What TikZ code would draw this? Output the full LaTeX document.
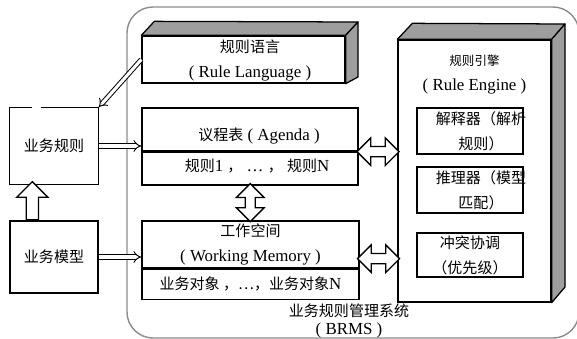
\documentclass[tikz,border=0pt]{standalone}
\usepackage{fontspec}
\setmainfont{Liberation Serif}
\newfontfamily\cjk[Scale=0.89]{Noto Sans CJK SC}
\newcommand{\zh}[1]{{\cjk #1}}
\usetikzlibrary{arrows.meta,shapes.arrows,positioning,calc}

\begin{document}
\begin{tikzpicture}[
    x=0.025cm, y=-0.025cm,
    font=\fontsize{12}{17.8}\selectfont,
    box/.style={rectangle, draw, line width=0.9pt, fill=white, inner sep=0pt, align=center},
    face/.style={draw, line width=0.9pt, fill=black!38, line join=round},
    implies/.style={double, double distance=2.2pt, line width=0.7pt, -{Implies}},
    dblarrow/.style={double arrow, draw, line width=0.9pt, fill=white, inner xsep=0pt,
        inner ysep=0.11cm, double arrow head extend=0.22cm},
    uparrow/.style={single arrow, draw, line width=0.9pt, fill=white, inner xsep=0pt,
        inner ysep=0.135cm, single arrow head extend=0.24cm}
]
    \useasboundingbox (0,0) rectangle (577,339);

    % system frame
    \draw[black!45, line width=1pt, rounded corners=0.65cm] (127,7) rectangle (579,338);

    % left side
    \node[box, draw=none, minimum width=2.2cm, minimum height=1.9cm] (busrule) at (54,146) {\zh{业务规则}};
    \draw[line width=0.9pt] ($(busrule.north west)+(23,0)$) -- (busrule.north west) -- (busrule.south west)
        -- (busrule.south east) -- (busrule.north east) -- ($(busrule.north east)+(-58,0)$);
    \node[box, minimum width=2.2cm, minimum height=1.8cm] (busmodel) at (54,257) {\zh{业务模型}};

    % rule language block
    \node[box, minimum width=5.075cm, minimum height=1.175cm] (rulelang) at (243.5,59.5) {};
    \node[align=center] at (250,60.5) {\zh{规则语言}\\( Rule Language )};
    \draw[face] (rulelang.north west) -- ++(13,-14) -- (358,22) -- (rulelang.north east) -- cycle;
    \draw[face] (rulelang.north east) -- (358,22) -- (358,77) -- (rulelang.south east) -- cycle;

    % agenda
    \node[box, minimum width=5.4cm, minimum height=1.075cm] (agendatop) at (250,129.5) {};
    \node[box, minimum width=5.4cm, minimum height=0.8cm, below=0pt of agendatop] (agendabot) {};
    \draw[line width=2pt] (agendabot.south west) -- (agendabot.south east);
    \node at (259,136) {\zh{议程表} ( Agenda )};
    \node at (257,166) {\zh{规则}1 \zh{，} … \zh{，} \zh{规则}N};

    % working memory
    \node[box, minimum width=5.425cm, minimum height=1.175cm] (wmtop) at (250.5,244.5)
        {\zh{工作空间}\\( Working Memory )};
    \node[box, minimum width=5.425cm, minimum height=0.75cm, below=0pt of wmtop] (wmbot)
        {\zh{业务对象 ，…，业务对象}N};

    % rule engine
    \node[box, minimum width=3.825cm, minimum height=6.55cm] (engine) at (474.5,171) {};
    \draw[face] (engine.north west) -- ++(15,-16) -- (565,24) -- (engine.north east) -- cycle;
    \draw[face] (engine.north east) -- (565,24) -- (565,287) -- (engine.south east) -- cycle;
    \node[align=center] at ($(engine.north)+(0,35)$) {{\cjk\fontsize{10}{12}\selectfont 规则引擎}\\( Rule Engine )};
    \node[box, minimum width=2.65cm, minimum height=1.15cm] (interp) at (470,131) {};
    \node[align=center] at (481,131) {\zh{解释器（解析}\\\zh{规则）}};
    \node[box, minimum width=2.65cm, minimum height=1.15cm] (infer) at (470,190) {};
    \node[align=center] at (481,190) {\zh{推理器（模型}\\\zh{匹配）}};
    \node[box, minimum width=2.65cm, minimum height=1.1cm] (conflict) at (470,255)
        {\zh{冲突协调}\\\zh{（优先级）}};

    \node[align=center, font=\fontsize{12}{13}\selectfont] (brms) at (349,321)
        {\zh{业务规则管理系统}\\( BRMS )};

    % connectors
    \draw[implies] (rulelang.west) -- (busrule.north east);
    \draw[implies] (busrule.east) -- (busrule.east -| agendatop.west);
    \draw[implies] (busmodel.east) -- (busmodel.east -| wmtop.west);

    \coordinate (wmport) at ($(wmtop.south east)+(0,-10)$);
    \node[uparrow, rotate=90, anchor=tail, minimum height=0.95cm] (modelup)
        at ($(busmodel.north west)+(23,0)$) {};
    \node[dblarrow, rotate=90, minimum height=0.95cm] (agendawm)
        at ($(agendabot.south)!0.5!(wmtop.north)$) {};
    \node[dblarrow, minimum height=1.05cm] (agendaeng)
        at ($(agendatop.south east)!0.5!(agendatop.south east -| engine.west)$) {};
    \node[dblarrow, minimum height=1.05cm] (wmeng)
        at ($(wmport)!0.5!(wmport -| engine.west)$) {};
\end{tikzpicture}
\end{document}
